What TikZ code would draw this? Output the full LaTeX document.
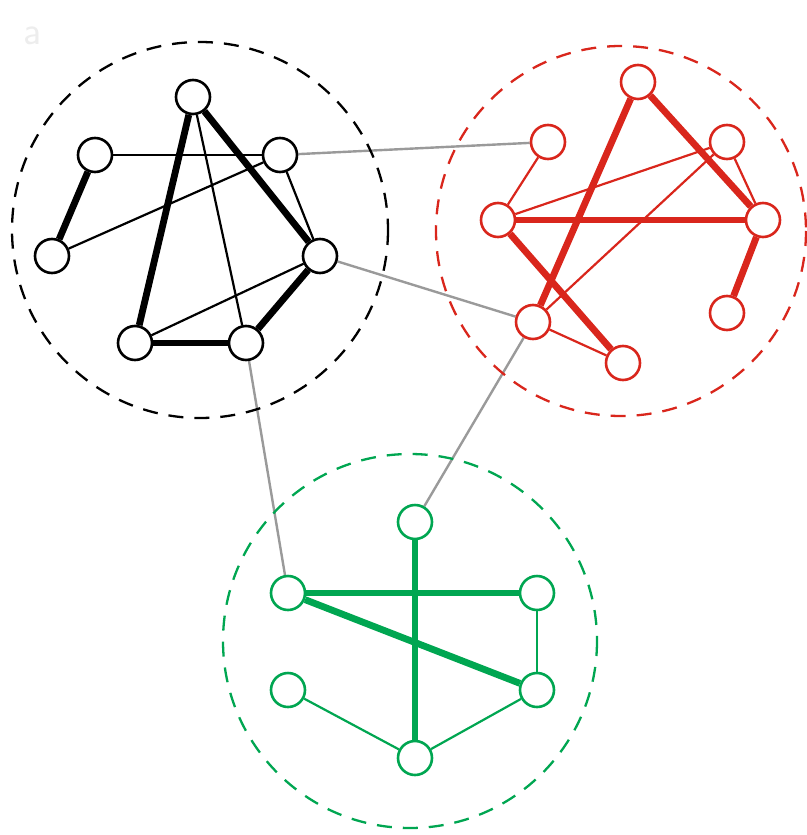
\documentclass[tikz,border=0pt]{standalone}
\usetikzlibrary{backgrounds}
\definecolor{cred}{HTML}{D9261C}
\definecolor{cgreen}{HTML}{00A651}
\definecolor{cgray}{HTML}{9A9A9A}
\begin{document}
\begin{tikzpicture}[x=1pt,y=-1pt,
  vert/.style={circle,draw=#1,fill=white,line width=2.6pt,minimum size=34pt,inner sep=0pt},
  thin edge/.style={draw=#1,line width=2.2pt},
  thick edge/.style={draw=#1,line width=6.8pt},
  cluster/.style={draw=#1,line width=2.3pt,dash pattern=on 15pt off 11pt},
  link/.style={draw=cgray,line width=2.4pt}]
\useasboundingbox (0,0) rectangle (806,835);
\node[text=black!7,font=\fontsize{40}{40}\selectfont\sffamily] (lbl) at (33,36) {a};
% clusters
\draw[cluster=black] (200,230) circle (188);
\draw[cluster=cred] (621,231) circle (185);
\draw[cluster=cgreen] (410,641) circle (187);
% black nodes
\node[vert=black] (B1) at (193,97) {};
\node[vert=black] (B2) at (95,155) {};
\node[vert=black] (B3) at (280,155) {};
\node[vert=black] (B4) at (52,256) {};
\node[vert=black] (B5) at (320,256) {};
\node[vert=black] (B6) at (135,343) {};
\node[vert=black] (B7) at (246,343) {};
% red nodes
\node[vert=cred] (R1) at (638,82) {};
\node[vert=cred] (R2) at (548,142) {};
\node[vert=cred] (R3) at (727,142) {};
\node[vert=cred] (R4) at (498,220) {};
\node[vert=cred] (R5) at (763,220) {};
\node[vert=cred] (R6) at (727,313) {};
\node[vert=cred] (R7) at (533,322) {};
\node[vert=cred] (R8) at (623,363) {};
% green nodes
\node[vert=cgreen] (G1) at (415,522) {};
\node[vert=cgreen] (G2) at (288,593) {};
\node[vert=cgreen] (G3) at (537,593) {};
\node[vert=cgreen] (G4) at (288,690) {};
\node[vert=cgreen] (G5) at (537,690) {};
\node[vert=cgreen] (G6) at (415,758) {};
\begin{scope}[on background layer]
% black edges
\path[thick edge=black] (B1) -- (B6);
\path[thick edge=black] (B1) -- (B5);
\path[thin edge=black] (B1) -- (B7);
\path[thin edge=black] (B2) -- (B3);
\path[thick edge=black] (B2) -- (B4);
\path[thin edge=black] (B3) -- (B4);
\path[thin edge=black] (B3) -- (B5);
\path[thin edge=black] (B5) -- (B6);
\path[thick edge=black] (B5) -- (B7);
\path[thick edge=black] (B6) -- (B7);
% red edges
\path[thick edge=cred] (R1) -- (R7);
\path[thick edge=cred] (R1) -- (R5);
\path[thin edge=cred] (R2) -- (R4);
\path[thin edge=cred] (R4) -- (R3);
\path[thick edge=cred] (R4) -- (R5);
\path[thick edge=cred] (R4) -- (R8);
\path[thin edge=cred] (R3) -- (R7);
\path[thin edge=cred] (R3) -- (R5);
\path[thick edge=cred] (R5) -- (R6);
\path[thin edge=cred] (R7) -- (R8);
% green edges
\path[thick edge=cgreen] (G1) -- (G6);
\path[thick edge=cgreen] (G2) -- (G3);
\path[thick edge=cgreen] (G2) -- (G5);
\path[thin edge=cgreen] (G3) -- (G5);
\path[thin edge=cgreen] (G4) -- (G6);
\path[thin edge=cgreen] (G6) -- (G5);
% links between clusters
\path[link] (B3) -- (R2);
\path[link] (B5) -- (R7);
\path[link] (B7) -- (G2);
\path[link] (R7) -- (G1);
\end{scope}
\end{tikzpicture}
\end{document}
